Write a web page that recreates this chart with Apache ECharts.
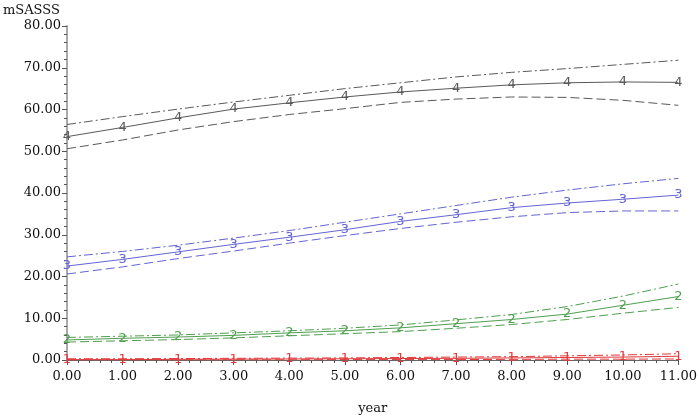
<!DOCTYPE html>
<html>
<head>
<meta charset="utf-8">
<script src="https://cdn.jsdelivr.net/npm/echarts@6/dist/echarts.min.js"></script>
<style>html,body{margin:0;padding:0;background:#fff}#c{width:700px;height:420px}</style>
</head>
<body>
<div id="c"></div>
<script>
const years = [0,1,2,3,4,5,6,7,8,9,10,11];
const yTicks = [0,10,20,30,40,50,60,70,80];
const g1Mean  = [0.1,0.1,0.15,0.2,0.25,0.3,0.35,0.4,0.5,0.6,0.7,0.9];
const g1Upper = [0.3,0.3,0.35,0.4,0.45,0.5,0.6,0.7,0.8,1.0,1.2,1.5];
const g1Lower = [0.0,0.0,0.0,0.05,0.05,0.1,0.1,0.1,0.15,0.2,0.2,0.25];
const g2Mean  = [4.8,5.2,5.5,5.9,6.5,7.0,7.7,8.7,9.7,11.0,13.1,15.2];
const g2Upper = [5.4,5.7,6.0,6.5,7.0,7.6,8.4,9.6,10.9,12.8,15.3,18.2];
const g2Lower = [4.3,4.6,4.9,5.3,5.8,6.3,6.8,7.6,8.5,9.7,11.2,12.6];
const g3Mean  = [22.5,24.1,25.9,27.7,29.4,31.2,33.2,34.8,36.5,37.6,38.5,39.5];
const g3Upper = [24.7,26.0,27.5,29.2,31.0,33.0,35.0,37.0,39.0,40.7,42.2,43.5];
const g3Lower = [20.6,22.3,24.3,26.1,28.0,29.8,31.5,33.0,34.3,35.3,35.7,35.7];
const g4Mean  = [53.5,55.7,58.0,60.1,61.6,63.0,64.2,65.1,65.9,66.4,66.6,66.5];
const g4Upper = [56.4,58.3,60.1,61.8,63.4,65.0,66.4,67.8,68.9,69.8,70.8,71.8];
const g4Lower = [50.6,52.7,55.1,57.1,58.8,60.2,61.7,62.5,63.0,62.9,62.2,61.0];
const groups = [
  {name:'1', mean:g1Mean, upper:g1Upper, lower:g1Lower, color:'#e03a3a'},
  {name:'2', mean:g2Mean, upper:g2Upper, lower:g2Lower, color:'#4f9f4f'},
  {name:'3', mean:g3Mean, upper:g3Upper, lower:g3Lower, color:'#6464d4'},
  {name:'4', mean:g4Mean, upper:g4Upper, lower:g4Lower, color:'#5a5a5a'}
];
const FONT = 'DejaVu Serif';
const pairs = arr => years.map((y,i)=>[y,arr[i]]);
const series = [];
groups.forEach(g=>{
  series.push({type:'line', name:g.name+' upper', data:pairs(g.upper), symbol:'none', silent:true,
    lineStyle:{color:g.color, width:1, type:[9,3,2,3]}, z:2});
  series.push({type:'line', name:g.name+' lower', data:pairs(g.lower), symbol:'none', silent:true,
    lineStyle:{color:g.color, width:1, type:[9,4]}, z:2});
  series.push({type:'line', name:g.name, data:pairs(g.mean), symbol:'circle', symbolSize:1,
    itemStyle:{color:'rgba(0,0,0,0)', borderWidth:0},
    lineStyle:{color:g.color, width:1}, z:3,
    labelLayout:{hideOverlap:false},
    label:{show:true, position:'inside', offset:[0,2], formatter:g.name, color:g.color,
      textBorderWidth:0, textBorderColor:'transparent',
      fontFamily:'DejaVu Sans', fontSize:13, fontWeight:'normal'}});
});
const chart = echarts.init(document.getElementById('c'), null, {renderer:'canvas'});
chart.setOption({
  animation:false,
  backgroundColor:'#fff',
  grid:{left:67, right:17, top:26, bottom:56},
  xAxis:[{type:'value', min:0, max:11, interval:1,
    name:'year', nameLocation:'middle', nameGap:42,
    nameTextStyle:{fontFamily:FONT, fontSize:13, color:'#111'},
    axisLine:{show:true, lineStyle:{color:'#777', width:1}},
    axisTick:{show:true, length:5, inside:false, lineStyle:{color:'#555'}},
    minorTick:{show:true, splitNumber:5, length:3, lineStyle:{color:'#555'}},
    splitLine:{show:false},
    axisLabel:{margin:10, fontFamily:FONT, fontSize:13, color:'#111', formatter:v=>v.toFixed(2)}},
   {type:'value', position:'top', min:0, max:11, axisLine:{show:true, lineStyle:{color:'#666', width:1}},
    axisTick:{show:false}, axisLabel:{show:false}, splitLine:{show:false}}],
  yAxis:[{type:'value', min:yTicks[0], max:yTicks[yTicks.length-1], interval:10,
    name:'mSASSS', nameLocation:'end', nameGap:9,
    nameTextStyle:{fontFamily:FONT, fontSize:13, color:'#111', align:'left', padding:[0,0,0,-64]},
    axisLine:{show:true, lineStyle:{color:'#666', width:1}},
    axisTick:{show:true, length:5, lineStyle:{color:'#555'}},
    minorTick:{show:true, splitNumber:5, length:3, lineStyle:{color:'#555'}},
    splitLine:{show:false},
    axisLabel:{margin:6, fontFamily:FONT, fontSize:13, color:'#111', formatter:v=>v.toFixed(2)}},
   {type:'value', position:'right', min:0, max:80, axisLine:{show:true, lineStyle:{color:'#aaa', width:2}},
    axisTick:{show:false}, axisLabel:{show:false}, splitLine:{show:false}}],
  series:series
});
</script>
</body>
</html>
